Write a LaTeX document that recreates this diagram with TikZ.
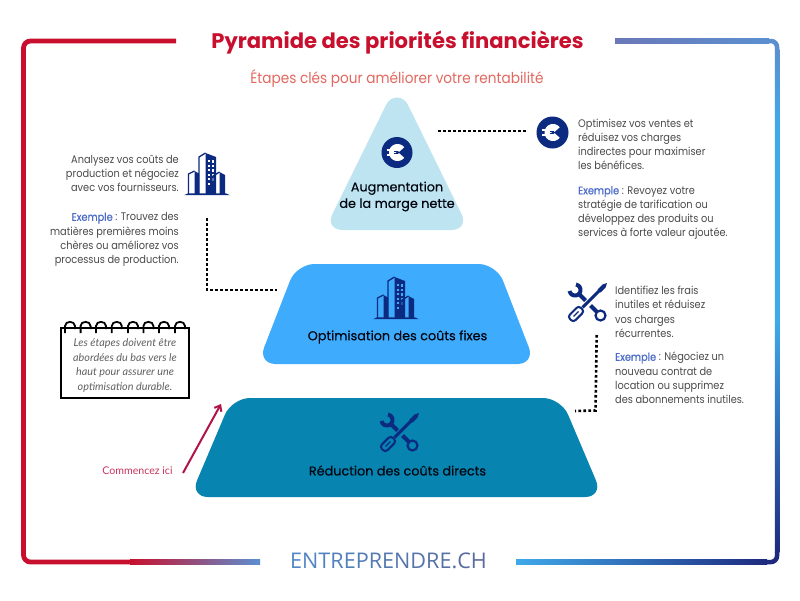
\documentclass[tikz,border=0pt]{standalone}
\usepackage{fontspec}
\setmainfont{Poppins}
\newfontfamily\bodyf{Poppins}[FakeStretch=0.89]
\newfontfamily\exf{Poppins}[FakeStretch=0.89,FakeBold=0.5]
\newfontfamily\subf{Poppins}[FakeStretch=0.91]
\newfontfamily\labf{Poppins}[FakeBold=0.3]
\newfontfamily\notef{Lato}
\newfontfamily\brandf{Open Sans}
\usetikzlibrary{arrows.meta}
\definecolor{navy}{HTML}{0B2A80}
\definecolor{redA}{HTML}{C8102E}
\definecolor{blueA}{HTML}{5B8FD0}
\definecolor{blueB}{HTML}{3FA9EA}
\definecolor{blueC}{HTML}{1E2A7E}
\definecolor{blueD}{HTML}{6B78B8}
\definecolor{topc}{HTML}{BDE4F0}
\definecolor{midc}{HTML}{3FABFC}
\definecolor{botc}{HTML}{0784B0}
\definecolor{bodytxt}{HTML}{4A4A4A}
\definecolor{exc}{HTML}{4A6CC8}
\definecolor{subc}{HTML}{E2685F}
\definecolor{brandA}{HTML}{4F86C6}
\definecolor{brandB}{HTML}{5A6A9A}
\definecolor{startc}{HTML}{C9345F}
\definecolor{arrowc}{HTML}{B0144A}
\pgfdeclareverticalshading{rightside}{100bp}{
 color(0bp)=(blueC); color(25bp)=(blueC); color(48bp)=(blueB); color(67.5bp)=(blueB); color(75bp)=(blueA); color(100bp)=(blueA)}
\tikzset{
 bodytext/.style={font=\bodyf\fontsize{11}{14.2}\selectfont,text=bodytxt,inner sep=0pt},
 lablt/.style={font=\labf\fontsize{12.8}{16.5}\selectfont,text=black!88!navy,inner sep=0pt,align=center},
 dotline/.style={line width=2.6pt,dash pattern=on 2.6pt off 2.4pt,black},
 tier/.style={rounded corners=18pt},
}
\newcommand{\ex}{{\exf\textcolor{exc}{Exemple}}}
\newcommand{\bld}[3]{\begin{scope}[shift={(#1,#2)}]
 \fill[navy] (-23,21.2)--(23,21.2)--(19,19.4)--(-19,19.4)--cycle;
 \fill[navy] (-1.5,-21)--(9,-17)--(9,20)--(-1.5,20)--cycle;
 \draw[navy,line width=1.3pt] (-8,20)--(-8,-17)--(-1.5,-21);
 \foreach \yy in {-14,-9.5,-5,-0.5,4}{\fill[#3] (1,\yy) rectangle (3,\yy+2.4);\fill[#3] (5,\yy+0.4) rectangle (7,\yy+2.8);}
 \fill[#3] (1,8.5) rectangle (3,11);
 \draw[navy,line width=1.3pt] (-18.5,20)--(-18.5,0)--(-12.5,-3);
 \fill[navy] (-12.5,-3)--(-8,-0.5)--(-8,20)--(-12.5,20)--cycle;
 \draw[navy,line width=1.3pt] (6,20)--(6,2)--(12.5,-2);
 \fill[navy] (12.5,-2)--(18,1)--(18,20)--(12.5,20)--cycle;
\end{scope}}
\newcommand{\tools}[2]{\begin{scope}[shift={(#1,#2)}]
 \draw[navy,line width=2pt,rounded corners=3pt] (-14.2,19.8)--(-19.8,14.2)--(-8.8,3.2)--(-3.2,8.8)--cycle;
 \draw[navy,line width=1.2pt] (-14,14)--(-9,9);
 \draw[navy,line width=3pt] (-5,5)--(13,-13);
 \fill[navy] (10,-13)--(15,-18)--(19.5,-19.5)--(18,-15)--(13,-10)--cycle;
 \draw[navy,line width=4pt] (-9,-9)--(-2,-2) (3,3)--(9.5,9.5);
 \draw[navy,line width=2.2pt] (13,13) circle[radius=5pt];
 \draw[navy,line width=4pt] plot[domain=280:530,samples=24] ({-12.5+5.5*cos(\x)},{-12.5+5.5*sin(\x)});
\end{scope}}
\newcommand{\coin}[3]{\begin{scope}[shift={(#1,#2)}]
 \fill[navy] (0,0) circle[radius=#3pt];
 \draw[white,line width=7pt] plot[domain=35:325,samples=24] ({0.5+5*cos(\x)},{5*sin(\x)});
 \draw[white,line width=2.2pt] (-10.5,-2.6)--(-3,-2.6) (-10.5,2.4)--(-3,2.4);
 \draw[navy,line width=.8pt] (-3,-1.2)--(1,-1.2) (-3,1.2)--(1,1.2);
\end{scope}}
\begin{document}
\begin{tikzpicture}[x=1pt,y=-1pt]
\fill[white] (0,0) rectangle (800,600);
\useasboundingbox (0,0) rectangle (800,600);
% frame
\draw[redA,line width=4.8pt,rounded corners=7pt] (176,41)--(23.5,41)--(23.5,562)--(131,562);
\shade[left color=redA,right color=blueA] (130,559.6) rectangle (260,564.4);
\shade[left color=blueD,right color=blueA] (615,38.7) rectangle (769,43.3);
\draw[blueA,line width=4.5pt,rounded corners=6pt] (768,41)--(777,41)--(777,50);
\shade[shading=rightside] (774.75,49.5) rectangle (779.25,552.5);
\draw[blueC,line width=4.5pt,rounded corners=6pt] (777,552)--(777,562)--(766,562);
\shade[left color=blueB,right color=blueC] (516,559.75) rectangle (767,564.25);
% tiers
\fill[topc] (386,105) .. controls (391,95) and (403,95) .. (408,105) -- (461,213) .. controls (466,222) and (462,230) .. (451,230) -- (343,230) .. controls (332,230) and (328,222) .. (333,213) -- cycle;
\fill[midc,tier] (296.5,264)--(496.5,264)--(535.3,364)--(257.7,364)--cycle;
\fill[botc,tier] (232,398)--(561,398)--(603,497)--(190,497)--cycle;
% icons
\coin{397}{152.5}{15.5}
\coin{552.5}{132.5}{16}
\bld{207}{174}{white}
\bld{396}{298}{midc}
\tools{587.5}{302.5}
\tools{399.5}{432.5}
% title
\node[font=\bfseries\fontsize{21.1}{24}\selectfont,text=redA,inner sep=0pt] (title) at (397.5,42.5) {Pyramide des priorités financières};
\node[font=\subf\fontsize{15}{17}\selectfont,text=subc,inner sep=0pt] (subtitle) at (397,78) {Étapes clés pour améliorer votre rentabilité};
% tier labels
\node[lablt] (t1) at (397,196.5) {Augmentation\\de la marge nette};
\node[lablt] (t2) at (397.5,337) {Optimisation des coûts fixes};
\node[lablt] (t3) at (397.5,470.5) {Réduction des coûts directs};
% left text
\node[bodytext,anchor=north east,align=right] (la) at (179,155) {Analysez vos coûts de\\production et négociez\\avec vos fournisseurs.};
\node[bodytext,anchor=north east,align=right] (lb) at (179,212.5) {\ex{} : Trouvez des\\matières premières moins\\chères ou améliorez vos\\processus de production.};
% right top text
\node[bodytext,anchor=north west,align=left] (ra) at (578,118.5) {Optimisez vos ventes et\\réduisez vos charges\\indirectes pour maximiser\\les bénéfices.};
\node[bodytext,anchor=north west,align=left] (rb) at (578,186) {\ex{} : Revoyez votre\\stratégie de tarification ou\\développez des produits ou\\services à forte valeur ajoutée.};
% right lower text
\node[bodytext,anchor=north west,align=left] (rc) at (615,286) {Identifiez les frais\\inutiles et réduisez\\vos charges\\récurrentes.};
\node[bodytext,anchor=north west,align=left] (rd) at (615,352) {\ex{} : Négociez un\\nouveau contrat de\\location ou supprimez\\des abonnements inutiles.};
% dotted connectors
\coordinate (d1a) at (438,131); \coordinate (d1b) at (527,131);
\coordinate (d2a) at (207,218); \coordinate (d2b) at (207,290); \coordinate (d2c) at (277,290);
\coordinate (d3a) at (596.7,335); \coordinate (d3b) at (595.5,410.5); \coordinate (d3c) at (575,411);
\draw[dotline] (d1a)--(d1b);
\draw[dotline] (d2a)--(d2b)--(d2c);
\draw[dotline] (d3a)--(d3b)--(d3c);
% note
\node[draw=black,line width=1.9pt,minimum width=128pt,minimum height=70pt,inner sep=0pt] (note) at (125.2,363) {};
\foreach \xx in {70,85.6,101,116.8,133,148.4,164,180}{
 \draw[black,line width=1.8pt] (\xx-5,333)--(\xx-5,326) .. controls (\xx-5,320.5) and (\xx+5,320.5) .. (\xx+5,326)--(\xx+5,329);
}
\node[font=\notef\itshape\fontsize{10.8}{14.4}\selectfont,text=black!62,align=center,inner sep=0pt] (notetext) at (125,365.5) {Les étapes doivent être\\abordées du bas vers le\\haut pour assurer une\\optimisation durable.};
% start
\node[font=\notef\fontsize{10.6}{12}\selectfont,text=startc,inner sep=0pt] (start) at (137.5,471) {Commencez ici};
\coordinate (ara) at (183,473); \coordinate (arb) at (221,404);
\draw[-{Straight Barb[length=5pt,width=8pt]},line width=2pt,draw=arrowc] (ara)--(arb);
% brand
\node[font=\brandf\fontsize{21.6}{24}\selectfont,inner sep=0pt] (brand) at (388.5,561) {\textcolor{brandA}{E}\textcolor{brandA!93!brandB}{N}\textcolor{brandA!86!brandB}{T}\textcolor{brandA!79!brandB}{R}\textcolor{brandA!72!brandB}{E}\textcolor{brandA!65!brandB}{P}\textcolor{brandA!58!brandB}{R}\textcolor{brandA!50!brandB}{E}\textcolor{brandA!43!brandB}{N}\textcolor{brandA!36!brandB}{D}\textcolor{brandA!29!brandB}{R}\textcolor{brandA!22!brandB}{E}\textcolor{brandA!15!brandB}{.}\textcolor{brandA!8!brandB}{C}\textcolor{brandB}{H}};
\end{tikzpicture}
\end{document}
